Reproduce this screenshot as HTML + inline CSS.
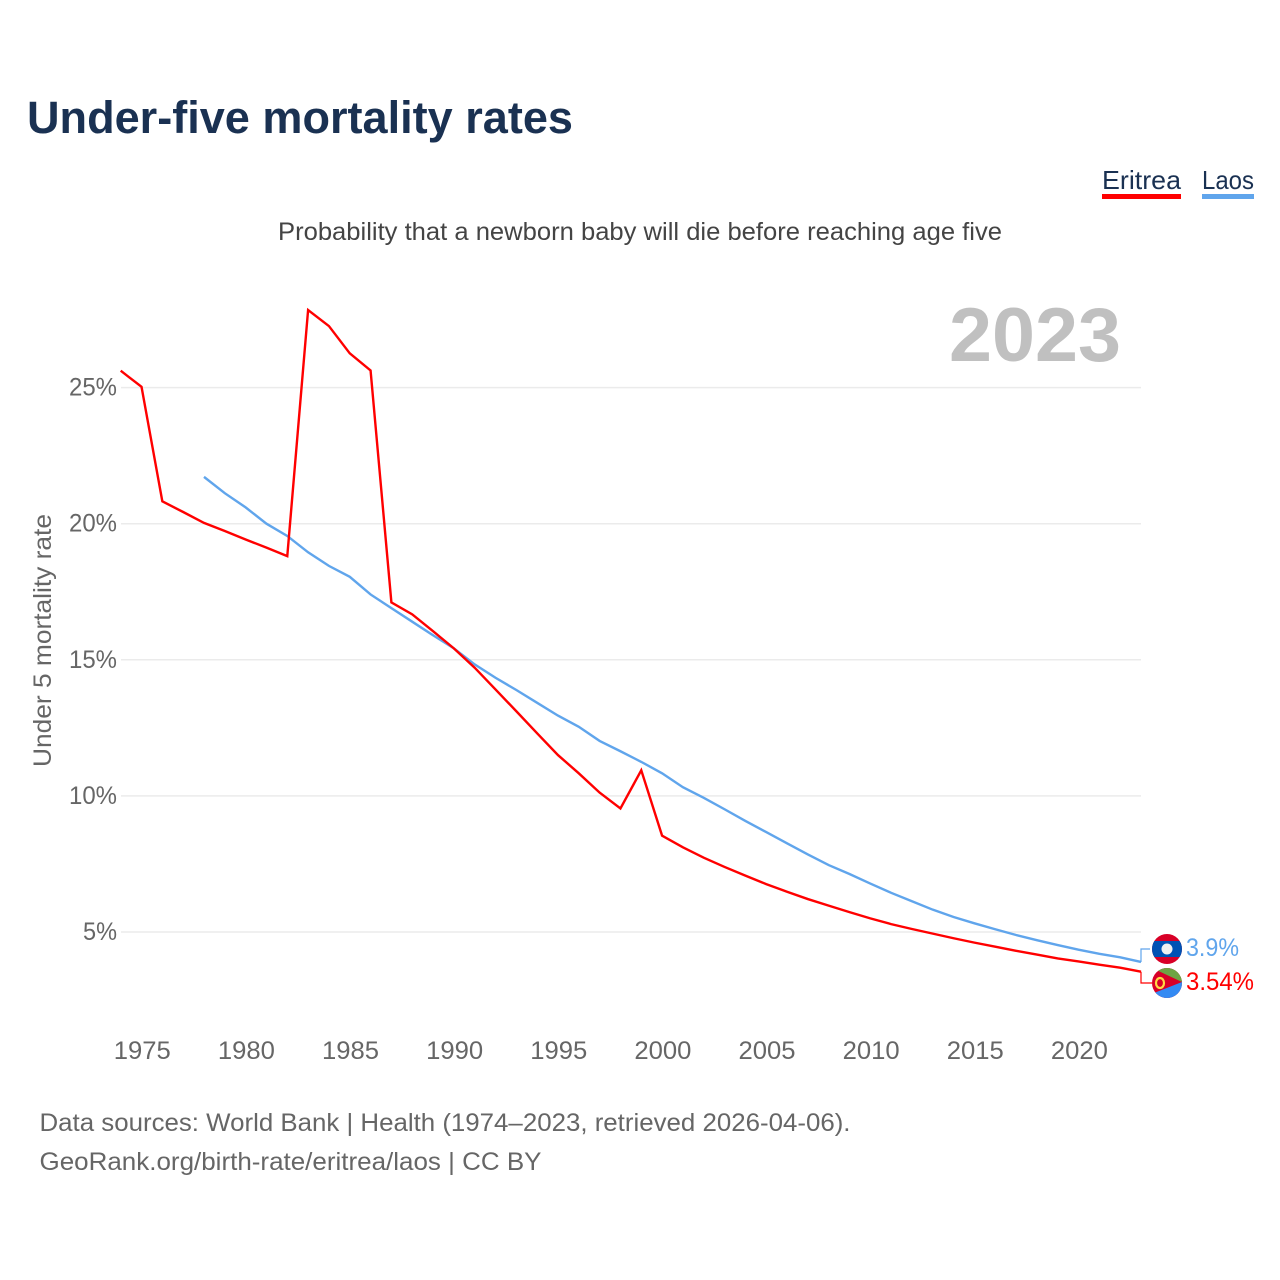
<!DOCTYPE html>
<html lang="en">
<head>
<meta charset="utf-8">
<title>Under-five mortality rates</title>
<style>
html,body{margin:0;padding:0;background:#fff;width:1280px;height:1280px;overflow:hidden}
svg{display:block}
text{font-family:"Liberation Sans",sans-serif}
</style>
</head>
<body>
<svg id="chart" width="1280" height="1280" viewBox="0 0 1280 1280" xmlns="http://www.w3.org/2000/svg">
  <defs>
    <clipPath id="laos-clip"><circle cx="1167" cy="949" r="15"/></clipPath>
    <clipPath id="eritrea-clip"><circle cx="1167" cy="983" r="15"/></clipPath>
  </defs>
  <text x="27" y="133" font-size="45" font-weight="700" fill="#1a3152" textLength="546" lengthAdjust="spacingAndGlyphs">Under-five mortality rates</text>
  <text x="278" y="240" font-size="25" fill="#444" textLength="724" lengthAdjust="spacingAndGlyphs">Probability that a newborn baby will die before reaching age five</text>

  <g>
    <text x="1102" y="189" font-size="26" fill="#1a3152" textLength="79" lengthAdjust="spacingAndGlyphs">Eritrea</text>
    <rect x="1102" y="194" width="79" height="5" fill="#ff0000"/>
  </g>
  <g>
    <text x="1202" y="189" font-size="26" fill="#1a3152" textLength="52" lengthAdjust="spacingAndGlyphs">Laos</text>
    <rect x="1202" y="194" width="52" height="5" fill="#60a5ec"/>
  </g>

  <text x="949" y="361" font-size="76" font-weight="700" fill="#c0c0c0" textLength="172" lengthAdjust="spacingAndGlyphs">2023</text>
  <text transform="translate(51 767) rotate(-90)" font-size="25" fill="#666" textLength="253" lengthAdjust="spacingAndGlyphs">Under 5 mortality rate</text>

  <g id="grid"></g>
  <g id="yticks"></g>
  <g id="xticks"></g>
  <g id="series"></g>

  <g clip-path="url(#laos-clip)">
    <rect x="1150" y="932" width="34" height="34" fill="#d80027"/>
    <rect x="1150" y="941" width="34" height="16" fill="#0052b4"/>
    <circle cx="1167" cy="949" r="5.5" fill="#f0f0f0"/>
  </g>
  <g clip-path="url(#eritrea-clip)">
    <rect x="1150" y="966" width="34" height="34" fill="#d80027"/>
    <polygon points="1150,966 1184,966 1184,982 1182,982 1152,968" fill="#6da544"/>
    <polygon points="1182,982 1184,982 1184,1000 1150,1000 1154,993" fill="#338af3"/>
    <ellipse cx="1160" cy="983" rx="4" ry="5" fill="none" stroke="#ffda44" stroke-width="2.2"/>
  </g>

  <g id="labels"></g>

  <text x="39.5" y="1131" font-size="25" fill="#666" textLength="811" lengthAdjust="spacingAndGlyphs">Data sources: World Bank | Health (1974–2023, retrieved 2026-04-06).</text>
  <text x="39.5" y="1170" font-size="25" fill="#666" textLength="502" lengthAdjust="spacingAndGlyphs">GeoRank.org/birth-rate/eritrea/laos | CC BY</text>
</svg>
<script>
var eritreaYears = [1974,1975,1976,1977,1978,1979,1980,1981,1982,1983,1984,1985,1986,1987,1988,1989,1990,1991,1992,1993,1994,1995,1996,1997,1998,1999,2000,2001,2002,2003,2004,2005,2006,2007,2008,2009,2010,2011,2012,2013,2014,2015,2016,2017,2018,2019,2020,2021,2022,2023];
var eritreaValues = [25.62,25.03,20.82,20.43,20.03,19.73,19.42,19.12,18.81,27.85,27.26,26.26,25.63,17.11,16.67,16.05,15.42,14.71,13.91,13.11,12.3,11.5,10.83,10.12,9.54,10.94,8.54,8.11,7.73,7.39,7.07,6.76,6.48,6.21,5.97,5.73,5.5,5.29,5.11,4.94,4.77,4.61,4.46,4.31,4.17,4.03,3.92,3.8,3.69,3.54];
var laosYears = [1978,1979,1980,1981,1982,1983,1984,1985,1986,1987,1988,1989,1990,1991,1992,1993,1994,1995,1996,1997,1998,1999,2000,2001,2002,2003,2004,2005,2006,2007,2008,2009,2010,2011,2012,2013,2014,2015,2016,2017,2018,2019,2020,2021,2022,2023];
var laosValues = [21.72,21.12,20.6,20.0,19.55,18.95,18.45,18.05,17.4,16.9,16.4,15.9,15.42,14.83,14.34,13.89,13.42,12.95,12.54,12.02,11.64,11.25,10.83,10.32,9.93,9.51,9.08,8.67,8.26,7.85,7.46,7.13,6.78,6.44,6.13,5.82,5.55,5.32,5.1,4.89,4.7,4.52,4.35,4.2,4.07,3.9];
var xTickYears = [1975,1980,1985,1990,1995,2000,2005,2010,2015,2020];
var yTickValues = [5,10,15,20,25];
var eritreaLabel = "3.54%";
var laosLabel = "3.9%";

var NS = "http://www.w3.org/2000/svg";
function xScale(year){ return 120.7 + (year - 1974) * (1020.3 / 49); }
function yScale(v){ return 932 - (v - 5) * 27.22; }
function make(tag, attrs, parent, txt){
  var el = document.createElementNS(NS, tag);
  for (var k in attrs) el.setAttribute(k, attrs[k]);
  if (txt !== undefined) el.textContent = txt;
  parent.appendChild(el);
  return el;
}
var grid = document.getElementById('grid');
var yticks = document.getElementById('yticks');
var xticks = document.getElementById('xticks');
var series = document.getElementById('series');
var labels = document.getElementById('labels');

yTickValues.forEach(function(v){
  var line = make('line', {x1:121, x2:1141, y1:yScale(v), y2:yScale(v), stroke:'#ebebeb', 'stroke-width':1.5}, grid);
  
  
  var s = v + '%';
  var t = make('text', {x:117, y:yScale(v)+8, 'text-anchor':'end', 'font-size':25, fill:'#666', textLength:(s.length === 2 ? 34 : 48), lengthAdjust:'spacingAndGlyphs'}, yticks, s);
  
  
});
xTickYears.forEach(function(y){
  var t = make('text', {x:xScale(y)+0.8, y:1059, 'text-anchor':'middle', 'font-size':25, fill:'#666', textLength:57, lengthAdjust:'spacingAndGlyphs'}, xticks, String(y));
  
  
});
function linePoints(years, values){
  return years.map(function(y, i){ return xScale(y).toFixed(2) + ',' + yScale(values[i]).toFixed(2); }).join(' ');
}
var laosLine = make('polyline', {points:linePoints(laosYears, laosValues), fill:'none', stroke:'#60a5ec', 'stroke-width':2.4, 'stroke-linejoin':'miter'}, series);


var eritreaLine = make('polyline', {points:linePoints(eritreaYears, eritreaValues), fill:'none', stroke:'#ff0000', 'stroke-width':2.4, 'stroke-linejoin':'miter'}, series);



var lx = xScale(laosYears[laosYears.length - 1]);
var ly = yScale(laosValues[laosValues.length - 1]);
var ex = xScale(eritreaYears[eritreaYears.length - 1]);
var ey = yScale(eritreaValues[eritreaValues.length - 1]);
var laosConn = make('polyline', {points:lx+','+ly+' '+lx+',949 1150,949', fill:'none', stroke:'#60a5ec', 'stroke-width':1.2}, labels);


var eriConn = make('polyline', {points:ex+','+ey+' '+ex+',983 1152,983', fill:'none', stroke:'#ff0000', 'stroke-width':1.2}, labels);


var laosText = make('text', {x:1186, y:956, 'font-size':25, fill:'#60a5ec', textLength:53, lengthAdjust:'spacingAndGlyphs'}, labels, laosLabel);


var eriText = make('text', {x:1186, y:990, 'font-size':25, fill:'#ff0000', textLength:68, lengthAdjust:'spacingAndGlyphs'}, labels, eritreaLabel);


</script>
</body>
</html>
